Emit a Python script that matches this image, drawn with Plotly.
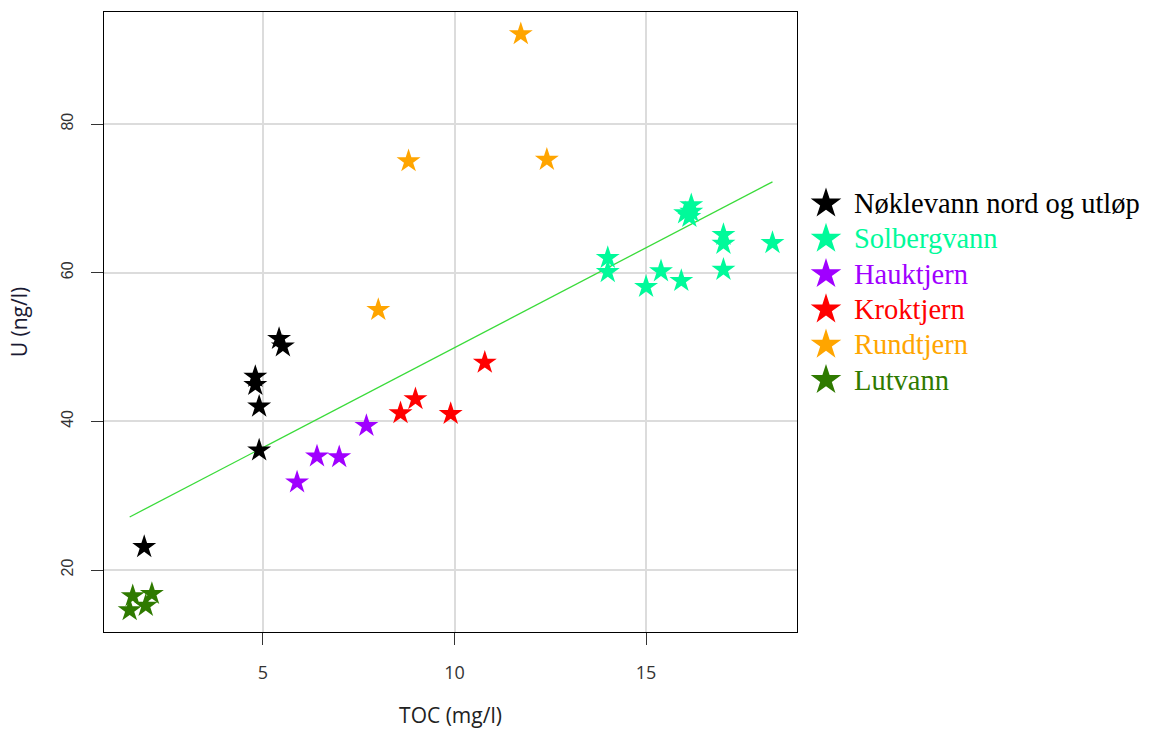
import plotly.graph_objects as go

# TOC (mg/l) and U (ng/l) per lake
lakes = ["Nøklevann nord og utløp", "Solbergvann", "Hauktjern", "Kroktjern", "Rundtjern", "Lutvann"]
colors = ["#000000", "#00FA9A", "#A000FF", "#FF0000", "#FFA500", "#2F7A00"]

toc_noklevann = [1.9, 4.9, 4.9, 4.8, 4.8, 5.42, 5.52]
u_noklevann = [23.1, 36.1, 42.0, 44.9, 46.0, 51.1, 50.1]

toc_solberg = [14.0, 14.0, 15.0, 15.39, 15.92, 17.02, 17.02, 17.02, 18.3, 16.02, 16.18, 16.13, 16.18]
u_solberg = [62.0, 60.1, 58.1, 60.2, 58.9, 65.1, 63.9, 60.4, 64.0, 68.0, 69.1, 67.5, 68.2]

toc_hauk = [5.89, 6.41, 6.99, 7.70]
u_hauk = [31.8, 35.3, 35.2, 39.4]

toc_krok = [8.59, 8.98, 9.90, 10.79]
u_krok = [41.1, 43.0, 41.0, 47.9]

toc_rund = [11.73, 8.80, 12.41, 8.01]
u_rund = [92.1, 75.0, 75.2, 55.0]

toc_lut = [1.60, 2.10, 1.52, 1.94]
u_lut = [16.5, 16.8, 14.6, 15.2]

toc_all = [toc_noklevann, toc_solberg, toc_hauk, toc_krok, toc_rund, toc_lut]
u_all = [u_noklevann, u_solberg, u_hauk, u_krok, u_rund, u_lut]

# linear trend U = a + b * TOC
fit_intercept = 23.05
fit_slope = 2.687

x_ticks = [5, 10, 15]
y_ticks = [20, 40, 60, 80]

W, H = 1156, 731
# plot box in page pixels
box_l, box_r, box_t, box_b = 104, 797, 12, 632

fig = go.Figure()

all_toc = [v for grp in toc_all for v in grp]
x_line = [min(all_toc), max(all_toc)]
fig.add_trace(go.Scatter(x=x_line, y=[fit_intercept + fit_slope * v for v in x_line],
                         mode="lines", line=dict(color="#3ADB3A", width=1.3),
                         showlegend=False, hoverinfo="skip"))

for name, col, tx, uy in zip(lakes, colors, toc_all, u_all):
    fig.add_trace(go.Scatter(
        x=tx, y=uy, mode="markers", name=name, showlegend=False,
        marker=dict(symbol="star", size=18, color=col, line=dict(width=0)),
    ))

# key on the right, drawn on a hidden page-pixel axis pair
row0, row_step = 203.5, 35.3
key_x, key_text_x = 826, 852
for i, (name, col) in enumerate(zip(lakes, colors)):
    ry = row0 + row_step * i
    fig.add_trace(go.Scatter(x=[key_x], y=[ry], xaxis="x2", yaxis="y2", mode="markers",
                             marker=dict(symbol="star", size=23, color=col, line=dict(width=0)),
                             showlegend=False, hoverinfo="skip"))
    fig.add_annotation(x=key_text_x, y=ry, xref="x2", yref="y2", text=name,
                       showarrow=False, xanchor="left", yanchor="middle",
                       font=dict(family="Liberation Serif", size=28.5, color=col))

axis_common = dict(
    showline=True, linecolor="#000000", linewidth=1, mirror=True,
    showgrid=True, gridcolor="#DCDCDC", gridwidth=1.5, zeroline=False,
    ticks="outside", ticklen=12, tickcolor="#333333", tickwidth=1,
    automargin=False,
)

fig.update_layout(
    width=W, height=H,
    margin=dict(l=0, r=0, t=0, b=0),
    paper_bgcolor="white", plot_bgcolor="rgba(0,0,0,0)",
    xaxis=dict(domain=[box_l / W, box_r / W], range=[0.85, 18.94], tickvals=x_ticks,
               tickfont=dict(family="Open Sans", size=18, color="#333333"),
               ticklabelstandoff=12,
               title=dict(text="TOC (mg/l)", font=dict(family="Open Sans", size=21, color="#222222"),
                          standoff=25),
               **axis_common),
    yaxis=dict(domain=[1 - box_b / H, 1 - box_t / H], range=[11.66, 95.07], tickvals=y_ticks,
               tickangle=-90, ticklabelstandoff=12,
               tickfont=dict(family="Liberation Sans", size=16, color="#333333"),
               title=dict(text="U (ng/l)", font=dict(family="Open Sans", size=21, color="#1a1a33"),
                          standoff=25),
               **axis_common),
    xaxis2=dict(domain=[0, 1], range=[0, W], visible=False, anchor="y2", fixedrange=True),
    yaxis2=dict(domain=[0, 1], range=[H, 0], visible=False, anchor="x2", fixedrange=True),
    showlegend=False,
)

fig.write_html("out.html")
